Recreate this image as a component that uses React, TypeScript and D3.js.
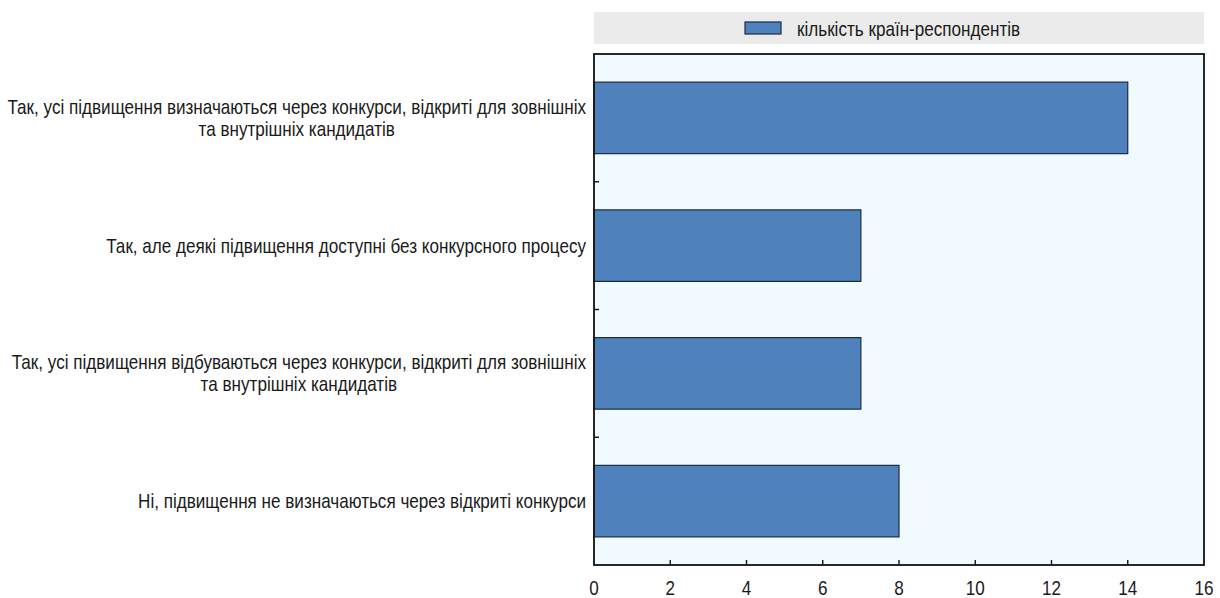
import React, { useEffect, useRef } from "react";
import * as d3 from "d3";

const categories: string[][] = [
  ["Так, усі підвищення визначаються через конкурси, відкриті для зовнішніх", "та внутрішніх кандидатів"],
  ["Так, але деякі підвищення доступні без конкурсного процесу"],
  ["Так, усі підвищення відбуваються через конкурси, відкриті для зовнішніх", "та внутрішніх кандидатів"],
  ["Ні, підвищення не визначаються через відкриті конкурси"],
];
const values: number[] = [14, 7, 7, 8];
const xTicks: number[] = [0, 2, 4, 6, 8, 10, 12, 14, 16];
const seriesName = "кількість країн-респондентів";

const W = 1220;
const H = 598;
const FONT = "'Liberation Sans', Arial, sans-serif";
const FS = 20;
const SX = 0.855; // horizontal condensing for a narrow look

export default function App() {
  const ref = useRef<SVGSVGElement | null>(null);

  useEffect(() => {
    const svg = d3.select(ref.current);
    svg.selectAll("*").remove();

    const left = 594, right = 1204, top = 54, bottom = 565;

    const x = d3.scaleLinear().domain([0, 16]).range([left, right]);
    const y = d3
      .scaleBand<number>()
      .domain(d3.range(categories.length))
      .range([top, bottom])
      .paddingInner(0.44)
      .paddingOuter(0.22);

    // condensed text helper: anchor point (px, py), horizontal squeeze
    const label = (px: number, py: number, txt: string, anchor: string) => {
      const g = svg.append("g").attr("transform", `translate(${px},${py}) scale(${SX},1)`);
      const t = g.append("text")
        .attr("x", 0).attr("y", 0).attr("dy", "0.35em")
        .attr("text-anchor", anchor)
        .attr("font-family", FONT).attr("font-size", FS).attr("fill", "#1a1a1a")
        .text(txt);
      return { g, t };
    };

    // legend strip
    svg.append("rect").attr("x", left).attr("y", 12).attr("width", right - left).attr("height", 32).attr("fill", "#ebebeb");
    svg.append("rect").attr("x", 745).attr("y", 22).attr("width", 36).attr("height", 12)
      .attr("fill", "#4f81bd").attr("stroke", "#1c2b44").attr("stroke-width", 1.2);
    label(797, 29, seriesName, "start");

    // plot background
    svg.append("rect").attr("x", left).attr("y", top).attr("width", right - left).attr("height", bottom - top)
      .attr("fill", "#f1fbff");

    // bars
    svg.append("g").selectAll("rect").data(values).join("rect")
      .attr("x", x(0))
      .attr("y", (_, i) => y(i)!)
      .attr("width", (d) => x(d) - x(0))
      .attr("height", y.bandwidth())
      .attr("fill", "#4f81bd")
      .attr("stroke", "#1c2b44")
      .attr("stroke-width", 1.2);

    // frame
    svg.append("rect").attr("x", left).attr("y", top).attr("width", right - left).attr("height", bottom - top)
      .attr("fill", "none").attr("stroke", "#111").attr("stroke-width", 1.8);

    // category separators on the left axis
    const step = y.step();
    for (let i = 1; i < categories.length; i++) {
      const yy = y(i)! - (step - y.bandwidth()) / 2;
      svg.append("line").attr("x1", left).attr("x2", left + 5).attr("y1", yy).attr("y2", yy)
        .attr("stroke", "#111").attr("stroke-width", 1.4);
    }

    // x ticks inside the frame
    svg.append("g").selectAll("line").data(xTicks.slice(1, -1)).join("line")
      .attr("x1", (d) => x(d)).attr("x2", (d) => x(d))
      .attr("y1", bottom).attr("y2", bottom - 5)
      .attr("stroke", "#111").attr("stroke-width", 1.4);

    xTicks.forEach((d) => label(x(d), 588, String(d), "middle"));

    // category labels: block right-aligned, lines centred within the block
    const labelRight = 586;
    const lineH = 22;
    categories.forEach((lines, i) => {
      const cy = y(i)! + y.bandwidth() / 2;
      const items = lines.map((ln, j) =>
        label(0, cy + (j - (lines.length - 1) / 2) * lineH, ln, "middle")
      );
      const maxW = (d3.max(items, (it) => (it.t.node() as SVGTextElement).getComputedTextLength()) || 0) * SX;
      items.forEach((it, j) =>
        it.g.attr(
          "transform",
          `translate(${labelRight - maxW / 2},${cy + (j - (lines.length - 1) / 2) * lineH}) scale(${SX},1)`
        )
      );
    });
  }, []);

  return (
    <svg ref={ref} width={W} height={H} style={{ position: "absolute", left: 0, top: 0, background: "#fff" }} />
  );
}
